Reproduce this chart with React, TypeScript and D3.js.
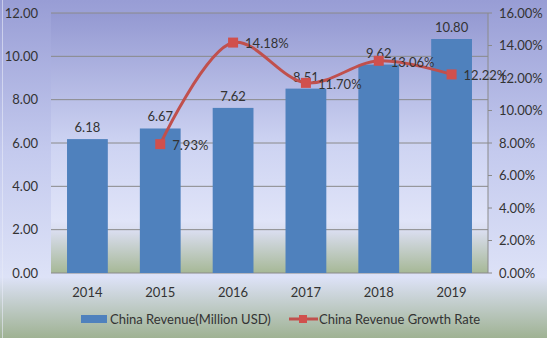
import React from "react";
import * as d3 from "d3";

const years = ["2014", "2015", "2016", "2017", "2018", "2019"];
const revenue = [6.18, 6.67, 7.62, 8.51, 9.62, 10.8];
const growthYears = ["2015", "2016", "2017", "2018", "2019"];
const growth = [7.93, 14.18, 11.7, 13.06, 12.22];
const leftTicks = [0, 2, 4, 6, 8, 10, 12];
const rightTicks = [0, 2, 4, 6, 8, 10, 12, 14, 16];

const W = 547, H = 338;
const M = { left: 51, right: 488, top: 13, bottom: 273 };
const FONT = "Lato, 'Noto Sans', sans-serif";
const TXT = "#333333";

export default function App() {
  const x = d3.scaleBand().domain(years).range([M.left, M.right]).paddingInner(0.44).paddingOuter(0.22);
  const yL = d3.scaleLinear().domain([0, 12]).range([M.bottom, M.top]);
  const yR = d3.scaleLinear().domain([0, 16]).range([M.bottom, M.top]);
  const cx = (yr: string) => (x(yr) as number) + x.bandwidth() / 2;
  const pts: [number, number][] = growthYears.map((yr, i) => [cx(yr), yR(growth[i])]);
  const line = d3.line().curve(d3.curveCatmullRom.alpha(0.5))(pts) as string;

  return (
    <svg width={W} height={H} style={{ position: "absolute", left: 0, top: 0 }} fontFamily={FONT}>
      <defs>
        <linearGradient id="bg" x1="0" y1="0" x2="0" y2="1">
          <stop offset="0" stopColor="#989dd5" />
          <stop offset="0.45" stopColor="#c4caee" />
          <stop offset="0.82" stopColor="#dde2f7" />
          <stop offset="1" stopColor="#9fb293" />
        </linearGradient>
        <linearGradient id="pa" x1="0" y1={M.top} x2="0" y2={M.bottom} gradientUnits="userSpaceOnUse">
          <stop offset="0" stopColor="#9499d2" />
          <stop offset="0.5" stopColor="#cdd3f2" />
          <stop offset="0.8" stopColor="#e0e4f8" />
          <stop offset="0.84" stopColor="#d9ddee" />
          <stop offset="1" stopColor="#a6b896" />
        </linearGradient>
      </defs>
      <rect x={0} y={0} width={W} height={H} fill="url(#bg)" />
      <line x1={2.5} x2={2.5} y1={0} y2={H} stroke="#e8ebf8" strokeWidth={1} opacity={0.6} />
      <rect x={M.left} y={M.top} width={M.right - M.left} height={M.bottom - M.top} fill="url(#pa)" />
      {leftTicks.map((t) => (
        <g key={"l" + t}>
          <line x1={M.left} x2={M.right} y1={yL(t)} y2={yL(t)} stroke="#8a8a8a" strokeWidth={1} />
          <text x={38} y={yL(t)} dy="0.35em" textAnchor="end" fontSize={13} fill={TXT}>{t.toFixed(2)}</text>
        </g>
      ))}
      <line x1={M.right} x2={M.right} y1={M.top} y2={M.bottom} stroke="#8a8a8a" />
      {rightTicks.map((t) => (
        <g key={"r" + t}>
          <line x1={M.right} x2={M.right + 4} y1={yR(t)} y2={yR(t)} stroke="#8a8a8a" />
          <text x={499} y={yR(t)} dy="0.35em" textAnchor="start" fontSize={13} fill={TXT}>{t.toFixed(2) + "%"}</text>
        </g>
      ))}
      {years.map((yr, i) => (
        <g key={yr}>
          <rect x={x(yr)} y={yL(revenue[i])} width={x.bandwidth()} height={M.bottom - yL(revenue[i])} fill="#4f81bd" />
          <text x={cx(yr)} y={yL(revenue[i]) - 7} textAnchor="middle" fontSize={13} fill={TXT}>{revenue[i].toFixed(2)}</text>
          <text x={cx(yr)} y={297} textAnchor="middle" fontSize={13} fill={TXT}>{yr}</text>
        </g>
      ))}
      <path d={line} fill="none" stroke="#c0504d" strokeWidth={3} />
      {pts.map(([px, py], i) => (
        <g key={"p" + i}>
          <rect x={px - 5} y={py - 5} width={10} height={10} fill="#d0504d" />
          <text x={px + 12} y={py} dy="0.45em" fontSize={13} fill={TXT}>{growth[i].toFixed(2) + "%"}</text>
        </g>
      ))}
      <rect x={81} y={315} width={26} height={8} fill="#4f81bd" />
      <text x={110} y={319} dy="0.35em" fontSize={13} fill={TXT}>China Revenue(Million USD)</text>
      <line x1={289} x2={318} y1={319} y2={319} stroke="#c0504d" strokeWidth={3} />
      <rect x={299} y={315} width={8} height={8} fill="#d0504d" />
      <text x={319} y={319} dy="0.35em" fontSize={13} fill={TXT}>China Revenue Growth Rate</text>
    </svg>
  );
}
